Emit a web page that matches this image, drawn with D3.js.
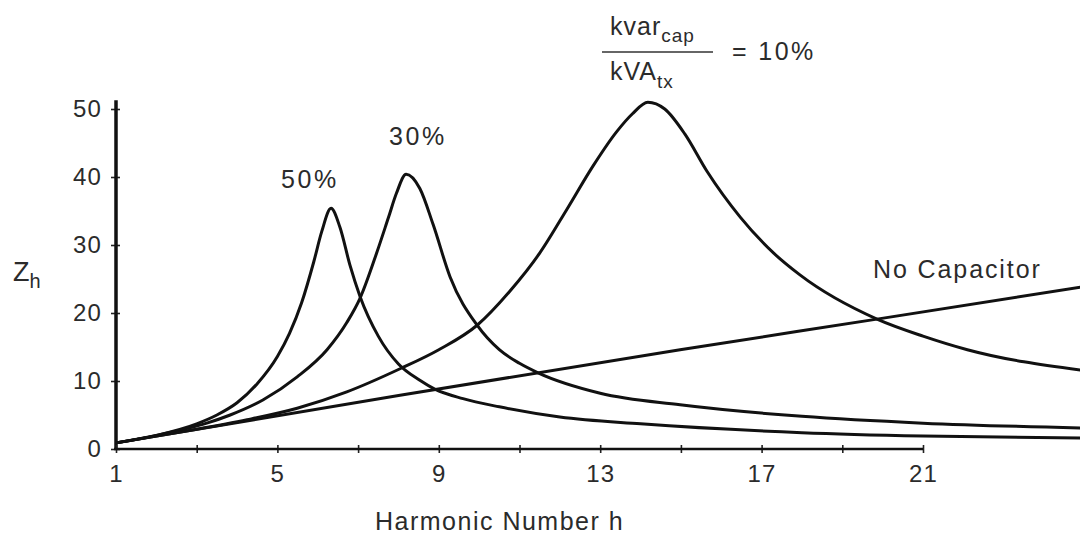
<!DOCTYPE html>
<html>
<head>
<meta charset="utf-8">
<script src="https://cdnjs.cloudflare.com/ajax/libs/d3/7.8.5/d3.min.js"></script>
<style>
  body { margin: 0; background: #fff; }
  svg { display: block; }
  text { font-family: "Liberation Sans", Arial, sans-serif; fill: #2b2b2b; }
</style>
</head>
<body>
<svg id="chart" width="1080" height="534"></svg>
<script>
// harmonic number samples and impedance
const hNoCap = [1, 8.04, 14.98, 19.86, 24.9];
const zNoCap = [0.9, 7.9, 14.6, 19.1, 23.8];

const h50 = [1, 2, 3, 3.5, 4, 4.5, 5, 5.3, 5.6, 5.9, 6.1, 6.33, 6.55, 6.8, 7.05, 7.5, 8, 8.53, 8.9, 9.6, 10.5, 12, 14, 18, 21, 24.9];
const z50 = [0.9, 2.0, 3.7, 5.0, 6.8, 9.6, 13.6, 17.0, 21.5, 27.5, 32.0, 35.4, 32.6, 27.0, 22.4, 16.6, 12.5, 10.1, 8.8, 7.4, 6.2, 4.7, 3.7, 2.4, 1.9, 1.6];

const h30 = [1, 2, 3.25, 3.83, 4.64, 5.49, 6.23, 6.72, 7.05, 7.47, 7.75, 7.95, 8.19, 8.53, 8.86, 9.28, 9.95, 10.5, 11.0, 11.46, 13.0, 14.98, 18, 21, 24.9];
const z30 = [0.9, 2.0, 3.8, 5.0, 7.2, 10.6, 14.6, 18.6, 22.2, 29.0, 34.0, 37.6, 40.4, 38.3, 33.0, 25.3, 18.2, 14.6, 12.6, 11.2, 8.2, 6.5, 4.8, 3.8, 3.1];

const h10 = [1, 2, 3, 4.25, 5.49, 6.72, 8.04, 9.0, 9.95, 10.76, 11.5, 12.18, 12.82, 13.4, 13.8, 14.18, 14.6, 15.1, 15.65, 16.47, 17.3, 17.95, 19.86, 21, 22.1, 24.9];
const z10 = [0.9, 1.9, 2.9, 4.3, 6.0, 8.4, 11.8, 14.6, 18.2, 23.2, 28.8, 35.3, 41.6, 46.6, 49.3, 51.0, 50.0, 46.3, 40.8, 34.1, 28.8, 25.6, 19.1, 16.6, 14.6, 11.6];

const xTicks = [1, 3, 5, 7, 9, 11, 13, 15, 17, 19, 21];
const xLabels = [1, 5, 9, 13, 17, 21];
const yTicks = [0, 10, 20, 30, 40, 50];

const svg = d3.select('#chart');
const x = d3.scaleLinear().domain([1, 25]).range([116, 1084.4]);
const y = d3.scaleLinear().domain([0, 50]).range([449, 109]);

const series = [
  { h: hNoCap, z: zNoCap },
  { h: h50, z: z50 },
  { h: h30, z: z30 },
  { h: h10, z: z10 }
];

const line = d3.line()
  .x(d => x(d[0]))
  .y(d => y(d[1]))
  .curve(d3.curveMonotoneX);

series.forEach(s => {
  svg.append('path')
    .datum(d3.zip(s.h, s.z))
    .attr('d', line)
    .attr('fill', 'none')
    .attr('stroke', '#111')
    .attr('stroke-width', 3);
});

// y axis
const yAxis = svg.append('g')
  .attr('transform', `translate(${x(1)},0)`)
  .call(d3.axisLeft(y).tickValues(yTicks).tickSize(5).tickPadding(9));
yAxis.select('.domain').remove();
yAxis.selectAll('.tick line').attr('x1', 4).attr('stroke', '#222').attr('stroke-width', 1.6);
yAxis.selectAll('.tick text')
  .style('font-size', '24px').style('letter-spacing', '1.2px')
  .attr('fill', '#2b2b2b').attr('font-family', null);
svg.append('line')
  .attr('x1', x(1)).attr('x2', x(1))
  .attr('y1', y(0)).attr('y2', y(51.3))
  .attr('stroke', '#111').attr('stroke-width', 3.5);

// x axis
const xAxis = svg.append('g')
  .attr('transform', `translate(0,${y(0)})`)
  .call(d3.axisBottom(x).tickValues(xTicks).tickSize(4).tickPadding(12)
    .tickFormat(d => xLabels.includes(d) ? d : ''));
xAxis.select('.domain').remove();
xAxis.selectAll('.tick line').attr('y1', -4).attr('stroke', '#222').attr('stroke-width', 1.6);
xAxis.selectAll('.tick text')
  .style('font-size', '24px').style('letter-spacing', '1.2px')
  .attr('fill', '#2b2b2b').attr('font-family', null);
svg.append('line')
  .attr('x1', x(1) - 2).attr('x2', x(21))
  .attr('y1', y(0)).attr('y2', y(0))
  .attr('stroke', '#111').attr('stroke-width', 2.6);

// axis titles
svg.append('text')
  .attr('x', 375).attr('y', 530)
  .style('font-size', '25px').style('letter-spacing', '1.5px')
  .text('Harmonic Number h');

const zLabel = svg.append('text')
  .attr('x', 13).attr('y', 281)
  .style('font-size', '27px');
zLabel.append('tspan').text('Z');
zLabel.append('tspan').attr('dy', 7).style('font-size', '20px').text('h');

// curve labels
svg.append('text').attr('x', 281).attr('y', 188)
  .style('font-size', '25px').style('letter-spacing', '2.6px').text('50%');
svg.append('text').attr('x', 389).attr('y', 145)
  .style('font-size', '25px').style('letter-spacing', '2.6px').text('30%');
svg.append('text').attr('x', 873).attr('y', 278)
  .style('font-size', '25px').style('letter-spacing', '1.9px').text('No Capacitor');

// kvar_cap / kVA_tx = 10%
const num = svg.append('text').attr('x', 610).attr('y', 35)
  .style('font-size', '25px').style('letter-spacing', '1px');
num.append('tspan').text('kvar');
num.append('tspan').attr('dy', 7).style('font-size', '19px').text('cap');

svg.append('line')
  .attr('x1', 602).attr('x2', 713)
  .attr('y1', 52).attr('y2', 52)
  .attr('stroke', '#666').attr('stroke-width', 1.8);

const den = svg.append('text').attr('x', 610).attr('y', 80)
  .style('font-size', '25px').style('letter-spacing', '1px');
den.append('tspan').text('kVA');
den.append('tspan').attr('dy', 8).style('font-size', '19px').text('tx');

svg.append('text').attr('x', 732).attr('y', 60)
  .style('font-size', '25px').style('letter-spacing', '2.4px').text('= 10%');
</script>
</body>
</html>
